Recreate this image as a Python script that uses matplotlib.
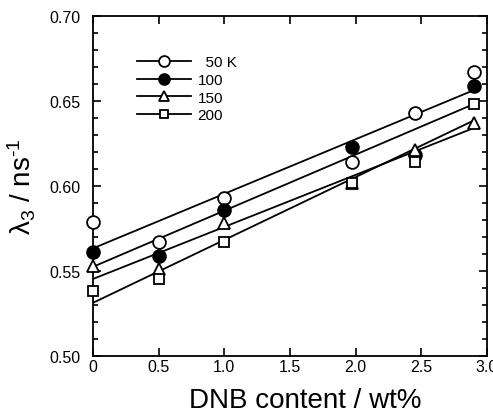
import numpy as np
import matplotlib
matplotlib.use("Agg")
import matplotlib.pyplot as plt
from matplotlib.ticker import MultipleLocator, FuncFormatter

plt.rcParams['font.family'] = ['Liberation Sans', 'DejaVu Sans']
plt.rcParams['mathtext.fontset'] = 'custom'
plt.rcParams['mathtext.rm'] = 'Liberation Sans'
plt.rcParams['mathtext.it'] = 'Liberation Sans:italic'

# DNB content (wt%) and lambda3 (1/ns) at each temperature
dnb = [0.0, 0.5, 1.0, 1.97, 2.45, 2.90]
lam_50 = [0.579, 0.567, 0.593, 0.614, 0.643, 0.667]
lam_100 = [0.561, 0.559, 0.586, 0.623, 0.618, 0.659]
lam_150 = [0.553, 0.551, 0.578, 0.602, 0.621, 0.637]
lam_200 = [0.538, 0.545, 0.567, 0.602, 0.614, 0.648]
temps = ['  50 K', '100', '150', '200']

series = [
    (lam_50, dict(marker='o', ms=9.2, mfc='white')),
    (lam_100, dict(marker='o', ms=9.2, mfc='black')),
    (lam_150, dict(marker='^', ms=8.0, mfc='white')),
    (lam_200, dict(marker='s', ms=7.2, mfc='white')),
]

fig = plt.figure(figsize=(4.93, 4.14), dpi=100)
ax = fig.add_axes([93 / 493, 57 / 414, 394 / 493, 340 / 414])

x = np.array(dnb)
xfit = np.array([x.min(), x.max()])
for (vals, st), lab in zip(series, temps):
    k, b = np.polyfit(x, vals, 1)
    ax.plot(xfit, k * xfit + b, color='black', lw=1.3, zorder=2)
    ax.plot(x, vals, ls='none', color='black', mec='black', mew=1.3,
            zorder=3, clip_on=False, **st)
    # legend handle: line with marker in the middle
    ax.plot([], [], color='black', lw=1.3, mec='black', mew=1.3,
            label=lab, **st)

ax.set_xlim(0, 3.0)
ax.set_ylim(0.50, 0.70)
ax.xaxis.set_major_locator(MultipleLocator(0.5))
ax.yaxis.set_major_locator(MultipleLocator(0.05))
ax.yaxis.set_minor_locator(MultipleLocator(0.01))
ax.xaxis.set_major_formatter(FuncFormatter(lambda v, p: '0' if v == 0 else '%.1f' % v))
ax.yaxis.set_major_formatter(FuncFormatter(lambda v, p: '%.2f' % v))

ax.tick_params(which='both', direction='in', top=True, right=True, width=1.2)
ax.tick_params(which='major', length=6)
ax.tick_params(which='minor', length=3.6)
ax.tick_params(axis='x', which='major', pad=2, labelsize=11.5)
ax.tick_params(axis='y', which='major', pad=9, labelsize=11.5)
for s in ax.spines.values():
    s.set_linewidth(1.3)

ax.set_xlabel('DNB content / wt%', fontsize=20)
ax.xaxis.set_label_coords(0.538, -0.09)
ax.set_ylabel('$\\mathrm{\\lambda_3}$ / ns$^{\u2010\\mathrm{1}}$', fontsize=20)
ax.yaxis.set_label_coords(-0.14, 0.5)

leg = ax.legend(loc='upper left', bbox_to_anchor=(0.112, 0.884), frameon=False,
                fontsize=11, handlelength=3.5, handletextpad=0.45,
                labelspacing=0.24, borderpad=0, borderaxespad=0,
                numpoints=1, markerscale=0.85)

fig.savefig('out.png', dpi=100)
